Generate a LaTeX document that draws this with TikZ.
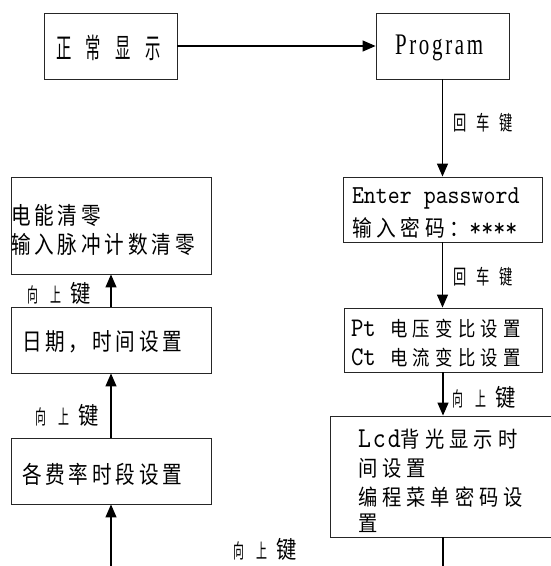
\documentclass[tikz,border=0pt]{standalone}
\usepackage{fontspec}
\newfontfamily\cjk{Noto Sans CJK SC}
\newfontfamily\ser{Liberation Serif}
\newfontfamily\lmtt{lmmono10-regular}[Extension=.otf]
\usetikzlibrary{arrows.meta}
\newcommand\myf[4]{#1\fontsize{#2}{#2}\selectfont\addfontfeature{FakeStretch=#3,LetterSpace=#4}}
\newcommand\upkey{{\myf{\cjk}{20}{0.55}{65}向上}\hspace{9bp}{\myf{\cjk}{24}{0.85}{0}键}}
\newcommand\enterkey{{\myf{\cjk}{20.5}{0.65}{50}回车键}}
\newcommand\body{\myf{\cjk}{24}{0.82}{16}}
\tikzset{
  box/.style={draw, line width=0.9bp, inner sep=0pt, color=black!85},
  arr/.style={line width=1.3bp, -{Triangle[length=13bp,width=11bp]}},
  ln/.style={line width=1.3bp},
  tx/.style={anchor=base west, inner sep=0pt, outer sep=0pt},
}
\begin{document}
\begin{tikzpicture}[x=1bp, y=-1bp]
\clip (0,0) rectangle (551,566);
\fill[white] (0,0) rectangle (551,566);
% boxes
\node[box, minimum width=133bp, minimum height=66bp] (normal) at (110.5,46) {};
\node[box, minimum width=133bp, minimum height=66bp] (prog) at (442.5,46) {};
\node[box, minimum width=199bp, minimum height=65bp] (pwd) at (442.5,209.5) {};
\node[box, minimum width=198bp, minimum height=64bp] (pt) at (443,340) {};
\node[box, minimum width=240bp, minimum height=121bp] (lcd) at (450,476.5) {};
\node[box, minimum width=200bp, minimum height=97bp] (clr) at (111,225.5) {};
\node[box, minimum width=200bp, minimum height=66bp] (date) at (111,340) {};
\node[box, minimum width=200bp, minimum height=66bp] (rate) at (111,471) {};
% texts
\node[tx, font=\myf{\cjk}{28}{0.55}{52}] (t1) at (56,59) {正常显示};
\node[tx, font=\myf{\ser}{30}{0.7}{9}] (t2) at (395,55) {Program};
\node[tx, font=\myf{\lmtt}{26}{0.88}{0}] (t3) at (352,203) {Enter password};
\node[tx, font=\myf{\cjk}{22.5}{0.88}{21}] (t4) at (352,236) {输入密码：{\myf{\lmtt}{26}{0.88}{0}****}};
\node[tx, font=\myf{\cjk}{20.5}{0.85}{26}] (t5) at (351,336) {\makebox[39bp][l]{\myf{\lmtt}{27}{0.88}{0}Pt}电压变比设置};
\node[tx, font=\myf{\cjk}{20.5}{0.85}{26}] (t6) at (351,365) {\makebox[39bp][l]{\myf{\lmtt}{27}{0.88}{0}Ct}电流变比设置};
\node[tx, font=\myf{\cjk}{22}{0.88}{23}] (t7) at (358,447) {{\myf{\lmtt}{29}{0.85}{7}Lcd}背光显示时};
\node[tx, font=\myf{\cjk}{22}{0.88}{23}] (t8) at (358,476) {间设置};
\node[tx, font=\myf{\cjk}{22}{0.88}{23}] (t9) at (358,505) {编程菜单密码设};
\node[tx, font=\myf{\cjk}{22}{0.88}{23}] (t10) at (358,531) {置};
\node[tx, font=\body] (t11) at (11,224) {电能清零};
\node[tx, font=\body] (t12) at (11,253) {输入脉冲计数清零};
\node[tx, font=\body] (t13) at (22,350) {日期，时间设置};
\node[tx, font=\body] (t14) at (22,483) {各费率时段设置};
% labels
\node[tx] (k1) at (453,131) {\enterkey};
\node[tx] (k2) at (453,284) {\enterkey};
\node[tx] (u1) at (452,406) {\upkey};
\node[tx] (u2) at (27,302) {\upkey};
\node[tx] (u3) at (35,424) {\upkey};
\node[tx] (u4) at (233,558) {\upkey};
% connectors
\coordinate (rb) at (443,570);
\coordinate (lb) at (111,570);
\draw[arr] (normal) -- (prog);
\draw[arr] (prog) -- (pwd);
\draw[arr] (pwd.south) -- (pwd.south |- pt.north);
\draw[arr] (pt.south) -- (pt.south |- lcd.north);
\draw[ln] (pt.south |- lcd.south) -- (rb);
\draw[arr] (lb) -- (rate);
\draw[arr] (rate) -- (date);
\draw[arr] (date) -- (clr);
\end{tikzpicture}
\end{document}
